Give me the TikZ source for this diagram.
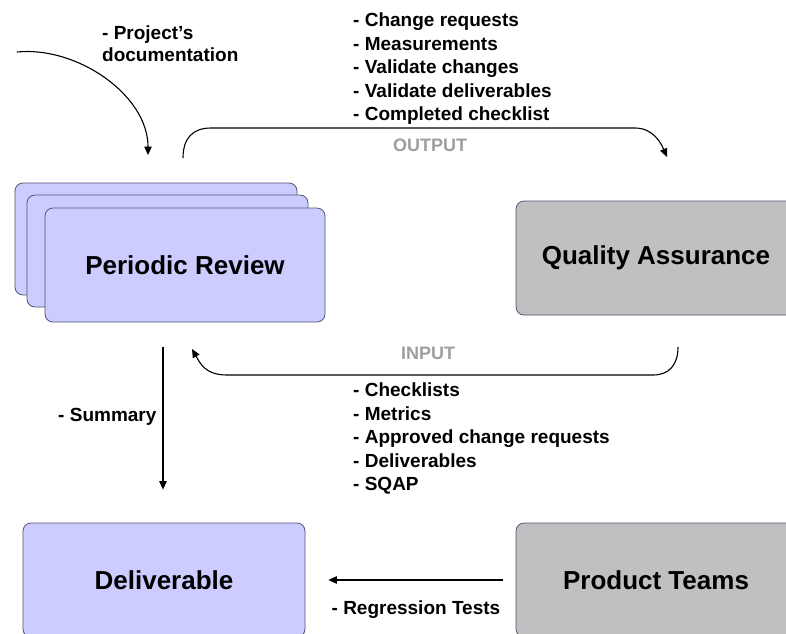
\documentclass[tikz,border=0pt]{standalone}
\usepackage{fontspec}
\setmainfont{Liberation Sans}
\usetikzlibrary{positioning,arrows.meta,calc}
\definecolor{reviewblue}{RGB}{204,204,255}
\definecolor{qagray}{RGB}{192,192,192}
\definecolor{edgeline}{RGB}{84,84,120}
\definecolor{taggray}{RGB}{158,158,158}
\tikzset{
flow/.style={-{Triangle[length=8.5pt,width=7.5pt]},line width=1.1pt},
box/.style={rectangle,rounded corners=8pt,draw=edgeline,line width=0.8pt,
	minimum width=280pt,minimum height=114pt,
	font=\fontsize{26}{30}\selectfont\bfseries},
rbox/.style={box,fill=reviewblue},
gbox/.style={box,fill=qagray},
el/.style={font=\fontsize{19}{23.5}\selectfont\bfseries,align=left,inner sep=2pt},
tag/.style={font=\fontsize{18}{22}\selectfont\bfseries,text=taggray,inner sep=0pt},
}
\begin{document}
\begin{tikzpicture}[x=1pt,y=-1pt]
	\useasboundingbox[fill=white] (0,0) rectangle (786,633);

	% stacked review sheets, back to front
	\node[rbox,minimum width=282pt,minimum height=112pt] (review-back) at (156,239) {};
	\node[rbox,minimum width=281pt,minimum height=112pt] (review-mid) at (167.5,251) {};
	\node[rbox] (review) at (185,265) {Periodic Review};
	\node[gbox] (qa) at (656,258) {Quality Assurance};
	\node[rbox,minimum width=282pt] (deliv) at (164,580) {Deliverable};
	\node[gbox] (teams) at (656,580) {Product Teams};

	\node[el,anchor=north west,font=\fontsize{19}{22}\selectfont\bfseries] (doclist) at (100,24) {- Project’s\\documentation};
	\node[el,anchor=north west] (outlist) at (351,11) {- Change requests\\- Measurements\\- Validate changes\\- Validate deliverables\\- Completed checklist};
	\node[el,anchor=north west] (inlist) at (351,381) {- Checklists\\- Metrics\\- Approved change requests\\- Deliverables\\- SQAP};
	\node[tag] (outtag) at (430,145) {OUTPUT};
	\node[tag] (intag) at (428,353) {INPUT};

	\coordinate (doc-from) at (17,52);
	\coordinate (doc-to) at (148,155);
	\coordinate (out-from) at (183,158);
	\coordinate (out-to) at (667,157);
	\coordinate (in-from) at (678,347);
	\coordinate (in-to) at (192,349);

	\draw[flow] (doc-from) .. controls +(60,-6) and +(0,-60) .. (doc-to);
	\draw[flow] (out-from) .. controls +(0,-20) and +(-18,0) .. ++(28,-30)
		-- ++(424,0) .. controls +(18,0) and +(-6,-14) .. (out-to);
	\draw[flow] (in-from) .. controls +(0,18) and +(16,0) .. ++(-25,28)
		-- ++(-426,0) .. controls +(-22,0) and +(8,14) .. (in-to);

	\draw[flow,shorten <=25pt,shorten >=33pt] ([xshift=-22pt]review.south)
		-- node[el,left=4pt,pos=0.47] {- Summary} ([xshift=-22pt]review.south |- deliv.north);
	\draw[flow,shorten <=13pt,shorten >=23pt] (teams.west)
		-- node[el,below=18pt,pos=0.474] {- Regression Tests} (deliv.east);
\end{tikzpicture}
\end{document}
